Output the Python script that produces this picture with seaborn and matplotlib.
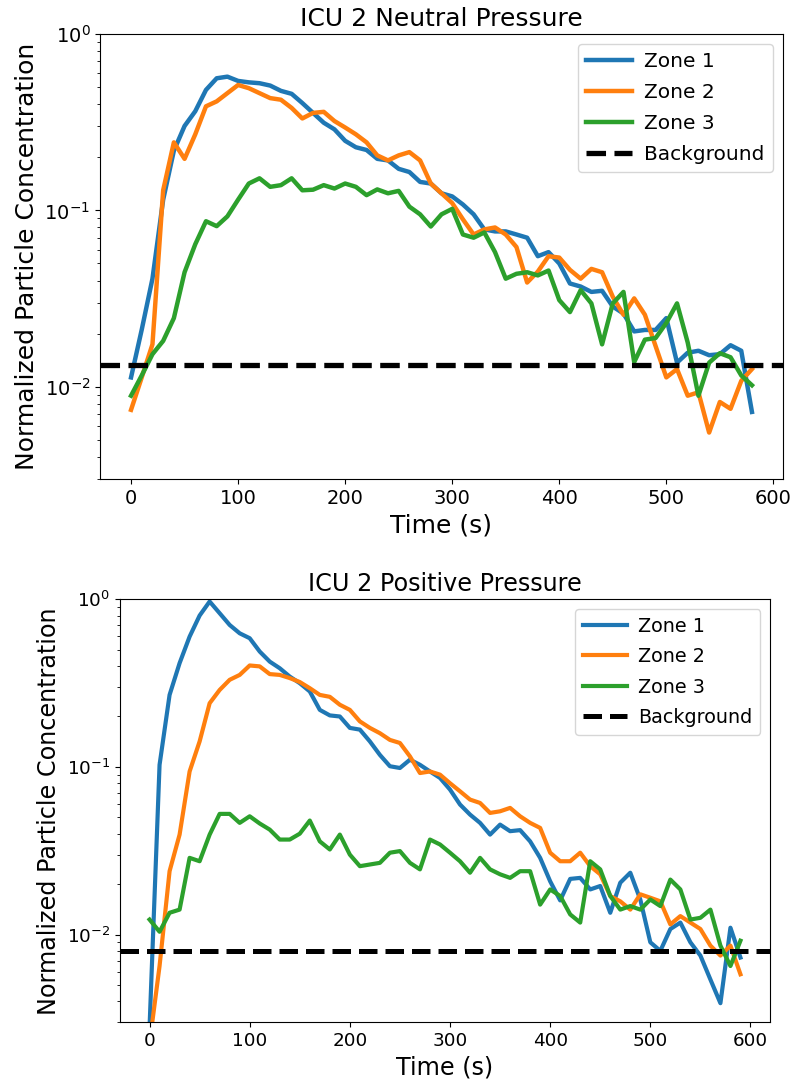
import numpy as np
import pandas as pd
import matplotlib
matplotlib.use("Agg")
import matplotlib.pyplot as plt
import seaborn as sns

# ================== 数据 ==================
zones = ["Zone 1", "Zone 2", "Zone 3"]
colors = ["#1f77b4", "#ff7f0e", "#2ca02c"]

# ICU 2 neutral pressure (t = 0..580 s, every 10 s)
time_neutral = np.arange(0, 590, 10)
neutral_zone1 = [0.0113, 0.0211, 0.041, 0.115, 0.218, 0.301, 0.365, 0.482, 0.561, 0.573,
                 0.542, 0.532, 0.526, 0.510, 0.476, 0.458, 0.406, 0.357, 0.314, 0.288,
                 0.248, 0.228, 0.220, 0.196, 0.192, 0.172, 0.165, 0.145, 0.142, 0.125,
                 0.120, 0.108, 0.095, 0.078, 0.076, 0.076, 0.073, 0.070, 0.055, 0.058,
                 0.050, 0.0385, 0.037, 0.0345, 0.035, 0.0285, 0.026, 0.0206, 0.021, 0.021,
                 0.0245, 0.0137, 0.0156, 0.016, 0.0151, 0.0153, 0.0172, 0.016, 0.0072]
neutral_zone2 = [0.0074, 0.0113, 0.0174, 0.130, 0.243, 0.196, 0.270, 0.389, 0.415, 0.462,
                 0.514, 0.493, 0.462, 0.433, 0.424, 0.381, 0.332, 0.357, 0.362, 0.321,
                 0.295, 0.270, 0.243, 0.205, 0.192, 0.205, 0.214, 0.192, 0.142, 0.125,
                 0.110, 0.089, 0.073, 0.078, 0.080, 0.073, 0.062, 0.039, 0.045, 0.055,
                 0.054, 0.046, 0.041, 0.0466, 0.0446, 0.0324, 0.0256, 0.0317, 0.0256, 0.017,
                 0.0113, 0.0126, 0.0089, 0.0093, 0.0055, 0.0082, 0.0075, 0.0108, 0.0126]
neutral_zone3 = [0.0089, 0.0116, 0.0153, 0.0182, 0.0245, 0.0446, 0.0643, 0.0868, 0.0814, 0.0925,
                 0.115, 0.142, 0.152, 0.136, 0.139, 0.152, 0.130, 0.131, 0.139, 0.133,
                 0.142, 0.136, 0.122, 0.1315, 0.125, 0.129, 0.105, 0.095, 0.081, 0.095,
                 0.102, 0.073, 0.070, 0.075, 0.058, 0.041, 0.0437, 0.0446, 0.0428, 0.0456,
                 0.031, 0.0265, 0.0353, 0.0297, 0.0174, 0.0297, 0.0345, 0.0138, 0.0185, 0.0189,
                 0.023, 0.0297, 0.0178, 0.0089, 0.0137, 0.0155, 0.0147, 0.0116, 0.0102]
neutral_background = 0.0133

# ICU 2 positive pressure (t = 0..590 s, every 10 s)
time_positive = np.arange(0, 600, 10)
positive_zone1 = [0.0028, 0.103, 0.269, 0.416, 0.599, 0.80, 0.97, 0.826, 0.703, 0.627,
                  0.586, 0.488, 0.425, 0.388, 0.346, 0.316, 0.282, 0.219, 0.203, 0.200,
                  0.171, 0.167, 0.142, 0.118, 0.101, 0.0986, 0.1105, 0.103, 0.094, 0.086,
                  0.0733, 0.0597, 0.052, 0.0464, 0.0395, 0.0453, 0.0414, 0.042, 0.036, 0.0287,
                  0.0208, 0.016, 0.0215, 0.0218, 0.0186, 0.0195, 0.0135, 0.0204, 0.0234, 0.0162,
                  0.009, 0.008, 0.0108, 0.0118, 0.009, 0.0075, 0.0054, 0.0039, 0.011, 0.0073]
positive_zone2 = [0.00225, 0.0065, 0.0239, 0.0395, 0.094, 0.142, 0.240, 0.288, 0.331, 0.354,
                  0.403, 0.398, 0.358, 0.354, 0.339, 0.321, 0.295, 0.269, 0.262, 0.235,
                  0.219, 0.187, 0.171, 0.159, 0.145, 0.139, 0.1156, 0.092, 0.094, 0.090,
                  0.080, 0.0716, 0.0639, 0.061, 0.0532, 0.0544, 0.057, 0.0508, 0.0464, 0.0433,
                  0.0308, 0.0274, 0.0274, 0.0308, 0.0256, 0.0229, 0.017, 0.0158, 0.0141, 0.0174,
                  0.0166, 0.0158, 0.0115, 0.0129, 0.0118, 0.0108, 0.0086, 0.0075, 0.0086, 0.0058]
positive_zone3 = [0.0123, 0.0104, 0.0135, 0.0141, 0.0287, 0.0274, 0.0395, 0.0525, 0.0525, 0.0464,
                  0.0508, 0.046, 0.0423, 0.0369, 0.0369, 0.040, 0.0479, 0.036, 0.0322, 0.0395,
                  0.030, 0.0256, 0.0262, 0.0268, 0.0308, 0.0315, 0.0268, 0.0245, 0.0369, 0.0345,
                  0.0308, 0.0274, 0.0234, 0.0287, 0.0245, 0.0229, 0.0218, 0.0239, 0.0239, 0.0151,
                  0.0186, 0.017, 0.0132, 0.0118, 0.0274, 0.0245, 0.017, 0.0141, 0.0148, 0.0141,
                  0.0162, 0.0148, 0.0213, 0.0186, 0.0123, 0.0126, 0.0141, 0.0086, 0.0065, 0.0092]
positive_background = 0.008


def to_long(time, series):
    """三个区域的数据整理成长表"""
    frames = []
    for zone, vals in zip(zones, series):
        frames.append(pd.DataFrame({"Time": time, "Conc": vals, "Zone": zone}))
    return pd.concat(frames, ignore_index=True)


def draw_panel(ax, df, background, title, fs, tick_fs, leg_fs, lw, dash_lw):
    for zone, c in zip(zones, colors):
        sub = df[df["Zone"] == zone]
        sns.lineplot(data=sub, x="Time", y="Conc", ax=ax, color=c, linewidth=lw,
                     label=zone, errorbar=None)
    ax.axhline(background, color="black", linestyle="--", linewidth=dash_lw, label="Background")
    ax.set_yscale("log")
    ax.set_ylim(3e-3, 1)
    ax.set_xticks([0, 100, 200, 300, 400, 500, 600])
    ax.set_title(title, fontsize=fs)
    ax.set_xlabel("Time (s)", fontsize=fs)
    ax.set_ylabel("Normalized Particle Concentration", fontsize=fs)
    ax.tick_params(axis="both", which="major", labelsize=tick_fs)
    ax.legend(loc="upper right", fontsize=leg_fs, handlelength=2.3, handletextpad=0.6,
              labelspacing=0.6)


# ================== 绘图 ==================
W, H = 797, 1082
fig = plt.figure(figsize=(W / 100, H / 100), dpi=100)

ax1 = fig.add_axes([100 / W, 1 - 479 / H, 683 / W, 445 / H])
ax2 = fig.add_axes([120 / W, 1 - 1022.3 / H, 650 / W, 423 / H])

df_neutral = to_long(time_neutral, [neutral_zone1, neutral_zone2, neutral_zone3])
df_positive = to_long(time_positive, [positive_zone1, positive_zone2, positive_zone3])

draw_panel(ax1, df_neutral, neutral_background, "ICU 2 Neutral Pressure",
           fs=18, tick_fs=14, leg_fs=14.5, lw=3.2, dash_lw=3.8)
draw_panel(ax2, df_positive, positive_background, "ICU 2 Positive Pressure",
           fs=17.2, tick_fs=13.2, leg_fs=13.8, lw=3.0, dash_lw=3.6)

fig.savefig("out.png", dpi=100)
